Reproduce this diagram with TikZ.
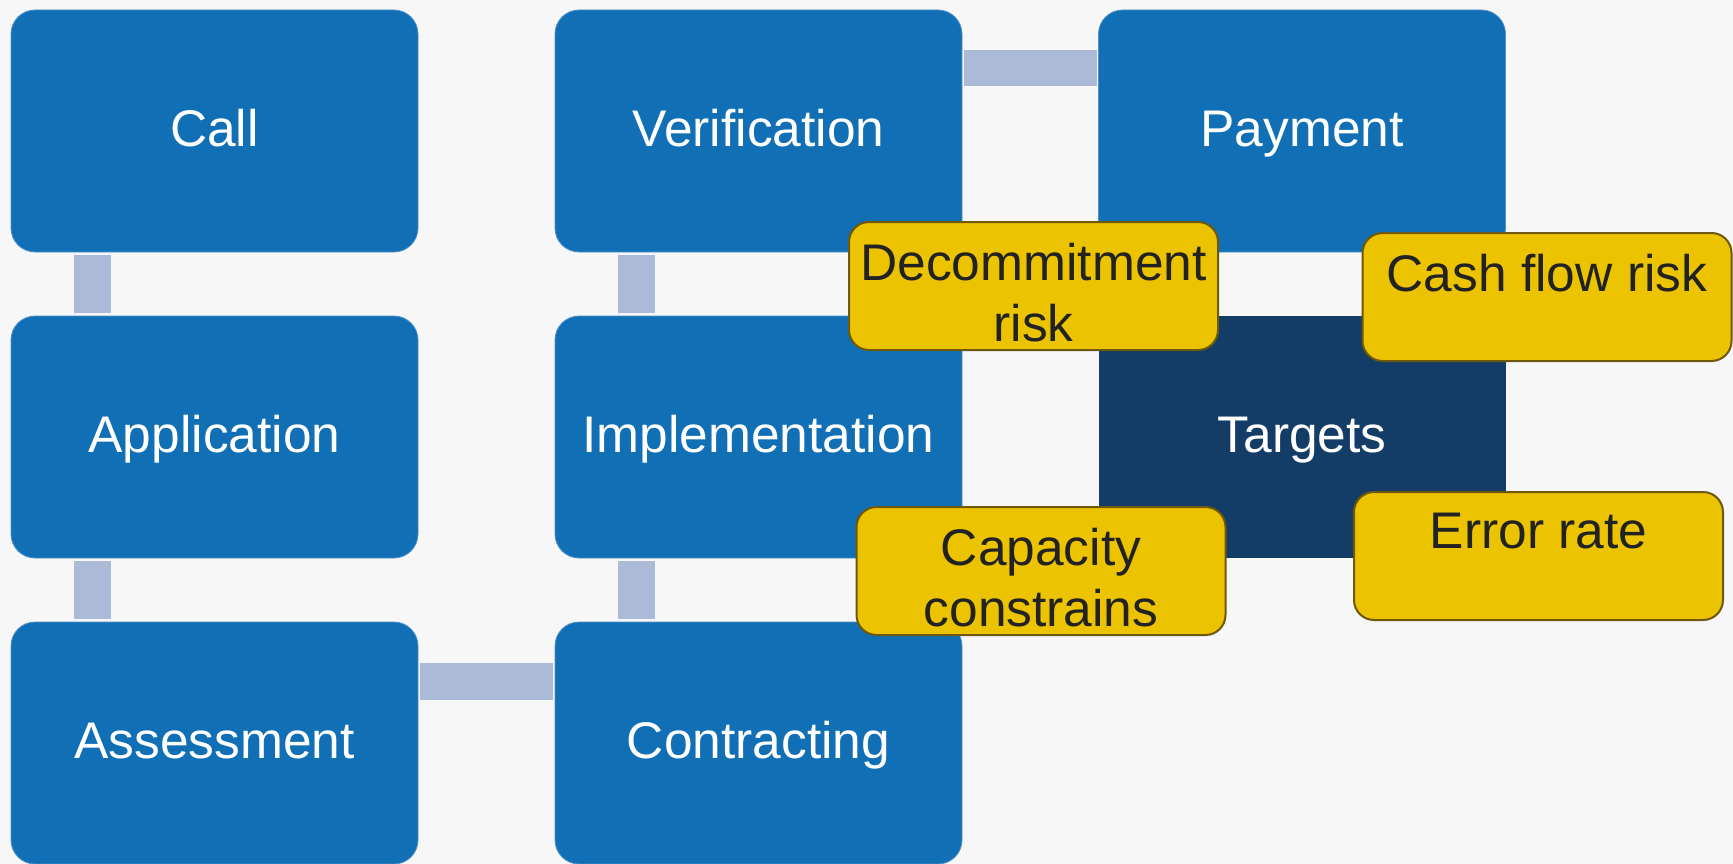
\documentclass[tikz,border=0pt]{standalone}
\usepackage{fontspec}
\setmainfont{Liberation Sans}
\usetikzlibrary{calc}
\definecolor{bgc}{RGB}{247,247,247}
\definecolor{stepblue}{RGB}{16,111,181}
\definecolor{navy}{RGB}{19,61,102}
\definecolor{connc}{RGB}{171,186,215}
\definecolor{risky}{RGB}{235,195,0}
\definecolor{riskborder}{RGB}{110,88,10}
\definecolor{darktext}{RGB}{34,34,34}
\tikzset{
  bigfont/.style={font=\fontsize{51.5}{61}\selectfont},
  stepbox/.style={fill=stepblue, draw={rgb,255:red,80;green,145;blue,200}, line width=0.8pt,
    rounded corners=24pt, minimum width=407pt, minimum height=242pt,
    inner sep=0pt, outer sep=0pt, text=white, bigfont, text height=41pt, text depth=10pt},
  targetbox/.style={fill=navy, draw=none, minimum width=407pt, minimum height=242pt,
    inner sep=0pt, outer sep=0pt, text=white, bigfont, text height=41pt, text depth=10pt},
  conn/.style={fill=connc},
  riskbox/.style={fill=risky, draw=riskborder, line width=2pt, rounded corners=20pt,
    minimum width=369pt, minimum height=128pt, inner sep=0pt, outer sep=0pt},
  risktext/.style={anchor=north, inner sep=0pt, text=darktext, bigfont, align=center},
}
\begin{document}
\begin{tikzpicture}[x=1pt,y=-1pt]
\useasboundingbox (0,0) rectangle (1733,864);
\fill[bgc] (0,0) rectangle (1733,864);
% process steps
\node[stepbox] (call)   at (214.5,131) {Call};
\node[stepbox] (app)    at (214.5,437) {Application};
\node[stepbox] (assess) at (214.5,743) {Assessment};
\node[stepbox] (verif)  at (758.5,131) {Verification};
\node[stepbox] (impl)   at (758.5,437) {Implementation};
\node[stepbox] (contr)  at (758.5,743) {Contracting};
\node[stepbox] (pay)    at (1302,131) {Payment};
\node[targetbox] (targets) at (1302,437) {Targets};
% connectors
\fill[conn] ($(call.south west)+(63,3)$) rectangle ($(app.north west)+(100,-3)$);
\fill[conn] ($(app.south west)+(63,3)$) rectangle ($(assess.north west)+(100,-3)$);
\fill[conn] ($(assess.north east)+(2,41)$) rectangle ($(contr.north west)+(-2,78)$);
\fill[conn] ($(contr.north west)+(63,-3)$) rectangle ($(impl.south west)+(100,3)$);
\fill[conn] ($(impl.north west)+(63,-3)$) rectangle ($(verif.south west)+(100,3)$);
\fill[conn] ($(verif.north east)+(2,40)$) rectangle ($(pay.north west)+(-2,76)$);
% risks
\node[riskbox] (decom) at (1033.5,286) {};
\node[risktext] (decomt) at ($(decom.north)+(0,21)$) {Decommitment\\risk};
\node[riskbox] (cash) at (1547,297) {};
\node[risktext] (casht) at ($(cash.north)+(0,21)$) {Cash flow risk};
\node[riskbox] (capac) at (1041,571) {};
\node[risktext] (capact) at ($(capac.north)+(0,21)$) {Capacity\\constrains};
\node[riskbox] (err) at (1538.5,556) {};
\node[risktext] (errt) at ($(err.north)+(0,21)$) {Error rate};
\end{tikzpicture}
\end{document}
